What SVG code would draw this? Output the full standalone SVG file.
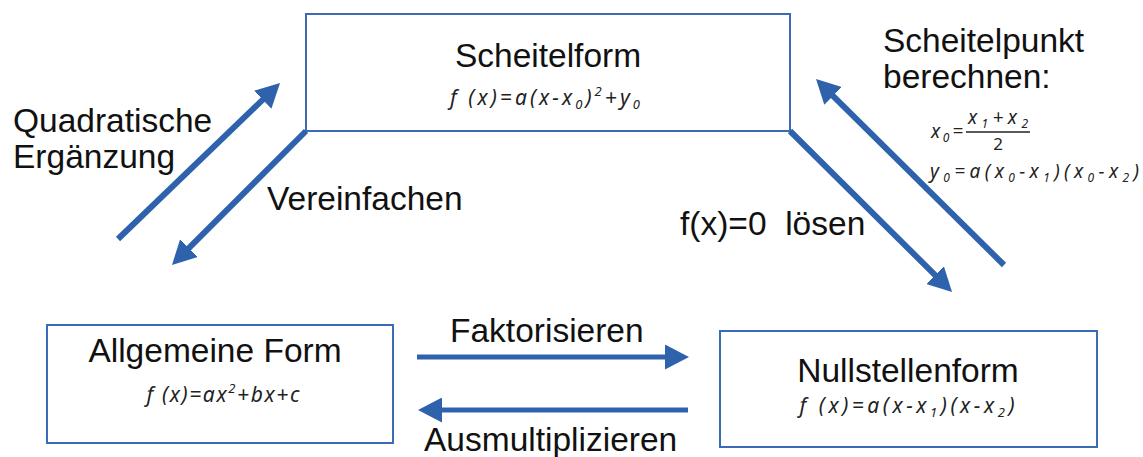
<svg xmlns="http://www.w3.org/2000/svg" width="1143" height="457" viewBox="0 0 1143 457">
<style>
.box{fill:#fff;stroke:#3a6cb5;stroke-width:2}
.lbl{font-family:"Liberation Sans",Arial,sans-serif;font-size:33.5px;fill:#111}
.math{font-family:"Noto Sans","Open Sans",sans-serif;font-style:italic;font-size:21px;fill:#222}
.sm{font-size:19px}
.up{font-style:normal;font-size:17px}
.conn{stroke:#2f62ad;stroke-width:6;fill:none;marker-end:url(#ah)}
.h{stroke-width:5}
</style>
<defs>
<marker id="ah" markerUnits="userSpaceOnUse" viewBox="0 0 24 25" markerWidth="24" markerHeight="25" refX="8" refY="12.5" orient="auto">
<path d="M0,0 L24,12.5 L0,25 z" fill="#2f62ad"/>
</marker>
</defs>
<rect width="1143" height="457" fill="#fff"/>
<g id="scheitelform">
<rect class="box" x="306" y="14" width="484" height="117"/>
<text class="lbl" x="548" y="67" text-anchor="middle">Scheitelform</text>
<text class="math" x="545" y="105" text-anchor="middle" textLength="190" lengthAdjust="spacing">f (x)=a(x−x<tspan dy="4" font-size="13">0</tspan><tspan dy="-4">)</tspan><tspan dy="-9" font-size="13">2</tspan><tspan dy="9">+y</tspan><tspan dy="4" font-size="13">0</tspan></text>
</g>
<g id="allgemeine">
<rect class="box" x="47" y="325" width="346" height="118"/>
<text class="lbl" x="215" y="362" text-anchor="middle">Allgemeine Form</text>
<text class="math" x="223" y="402" text-anchor="middle" textLength="153" lengthAdjust="spacing">f (x)=ax<tspan dy="-9" font-size="13">2</tspan><tspan dy="9">+bx+c</tspan></text>
</g>
<g id="nullstellen">
<rect class="box" x="720" y="331" width="377" height="116"/>
<text class="lbl" x="908" y="382" text-anchor="middle">Nullstellenform</text>
<text class="math" x="907" y="413" text-anchor="middle" textLength="215" lengthAdjust="spacing">f (x)=a(x−x<tspan dy="4" font-size="13">1</tspan><tspan dy="-4">)(x−x</tspan><tspan dy="4" font-size="13">2</tspan><tspan dy="-4">)</tspan></text>
</g>
<g id="connectors">
<line class="conn" x1="118" y1="239" x2="268.5" y2="94.1"/>
<line class="conn" x1="306" y1="131" x2="183.3" y2="253.7"/>
<line class="conn" x1="790" y1="131" x2="940.7" y2="280.7"/>
<line class="conn" x1="1004" y1="265" x2="827.4" y2="90.3"/>
<line class="conn h" x1="417" y1="357" x2="673" y2="357"/>
<line class="conn h" x1="688" y1="410" x2="434" y2="410"/>
</g>
<g id="labels">
<text class="lbl" x="13" y="132">Quadratische</text>
<text class="lbl" x="13" y="168">Ergänzung</text>
<text class="lbl" x="267" y="210">Vereinfachen</text>
<text class="lbl" x="680" y="235" xml:space="preserve">f(x)=0  lösen</text>
<text class="lbl" x="450" y="342">Faktorisieren</text>
<text class="lbl" x="424" y="451">Ausmultiplizieren</text>
<text class="lbl" x="883" y="52">Scheitelpunkt</text>
<text class="lbl" x="883" y="88">berechnen:</text>
</g>
<g id="scheitelpunkt-formeln">
<text class="math sm" x="931" y="138" textLength="32" lengthAdjust="spacing">x<tspan dy="4" font-size="12">0</tspan><tspan dy="-4">=</tspan></text>
<text class="math sm" x="998" y="124" text-anchor="middle" textLength="60" lengthAdjust="spacing">x<tspan dy="4" font-size="12">1</tspan><tspan dy="-4">+x</tspan><tspan dy="4" font-size="12">2</tspan></text>
<line x1="966" y1="132" x2="1030" y2="132" stroke="#222" stroke-width="1.5"/>
<text class="math up" x="998" y="150" text-anchor="middle">2</text>
<text class="math sm" x="930" y="178" textLength="209" lengthAdjust="spacing">y<tspan dy="4" font-size="12">0</tspan><tspan dy="-4">=a(x</tspan><tspan dy="4" font-size="12">0</tspan><tspan dy="-4">−x</tspan><tspan dy="4" font-size="12">1</tspan><tspan dy="-4">)(x</tspan><tspan dy="4" font-size="12">0</tspan><tspan dy="-4">−x</tspan><tspan dy="4" font-size="12">2</tspan><tspan dy="-4">)</tspan></text>
</g>
</svg>
